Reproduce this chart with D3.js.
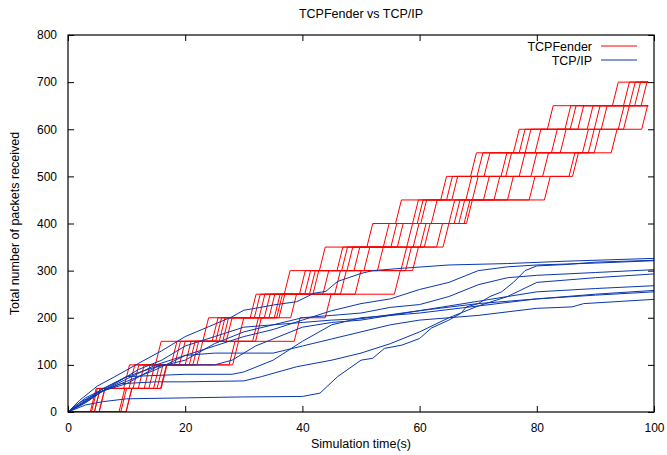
<!DOCTYPE html>
<html>
<head>
<meta charset="utf-8">
<script src="https://cdn.jsdelivr.net/npm/d3@7"></script>
<style>
  body { margin: 0; background: #fff; }
  text { font-family: "Liberation Sans", Arial, Helvetica, sans-serif; fill: #000; }
</style>
</head>
<body>
<svg id="chart" width="667" height="455"></svg>
<script>
// tick labels
const xTicks = [0, 20, 40, 60, 80, 100];
const yTicks = [0, 100, 200, 300, 400, 500, 600, 700, 800];

// TCPFender: one step of 50 packets per row, time (s) each run reaches it
const stepLevels = [50, 100, 150, 200, 250, 300, 350, 400, 450, 500, 550, 600, 650, 700];
const stepArrivals = [
  [4.8, 5.0, 5.5, 5.5, 6.3, 6.3, 9.7, 10.0, 10.9, 10.9],
  [10.5, 11.4, 12.1, 13.0, 14.0, 14.8, 15.6, 16.2, 16.8, 16.9],
  [15.9, 18.6, 19.2, 20.0, 21.0, 21.7, 22.3, 23.0, 28.5, 29.1],
  [24.0, 25.6, 26.2, 26.8, 27.4, 28.0, 30.0, 32.5, 33.0, 39.6],
  [32.1, 32.8, 33.6, 34.5, 35.3, 36.2, 36.6, 37.0, 39.0, 44.9],
  [37.9, 40.5, 41.4, 42.2, 42.8, 44.5, 46.5, 47.5, 50.0, 56.7],
  [43.9, 46.9, 47.7, 48.6, 49.8, 51.5, 53.8, 57.8, 58.6, 59.8],
  [52.0, 54.8, 56.1, 57.2, 58.8, 59.9, 61.1, 61.8, 63.9, 65.0],
  [56.9, 59.8, 60.6, 61.2, 63.0, 66.0, 66.9, 67.7, 68.6, 69.0],
  [64.6, 65.6, 66.5, 68.9, 70.0, 71.9, 73.7, 76.0, 79.7, 82.3],
  [69.7, 70.8, 72.0, 74.9, 75.7, 78.0, 80.0, 82.0, 86.5, 87.1],
  [77.0, 78.0, 79.0, 80.7, 83.5, 85.0, 88.8, 89.8, 90.8, 93.7],
  [82.8, 85.8, 86.7, 88.0, 89.6, 90.8, 92.0, 94.9, 95.8, 98.9],
  [93.9, 95.8, 96.8, 97.7, 98.8]
];
const fenderEnd = 99;

// TCP/IP runs: [time, packets]
const tcpRun1 = [[0,0],[2,25],[5,55],[8,75],[12,103],[16,130],[20,160],[24,181],[28,202],[30,216],[32,220],[35,227],[39,234],[42,252],[44,256],[46,277],[50,294],[52,300],[57,305],[65,312],[75,315],[85,320],[100,326]];
const tcpRun2 = [[0,0],[1,5],[3,15],[6,22],[10,28],[20,30],[30,32],[40,33],[43,40],[46,75],[50,110],[52,114],[54,135],[57,142],[60,156],[62,178],[65,195],[67,209],[68,223],[70,230],[72,245],[74,255],[76,275],[78,300],[80,310],[85,313],[90,318],[100,322]];
const tcpRun3 = [[0,0],[2,15],[5,40],[10,65],[15,90],[20,120],[25,140],[30,160],[35,175],[40,195],[45,215],[50,230],[55,240],[60,260],[65,275],[70,300],[75,308],[80,312],[90,316],[100,321]];
const tcpRun4 = [[0,0],[3,20],[6,45],[10,60],[15,95],[20,110],[25,145],[30,170],[35,185],[40,200],[45,205],[50,210],[55,222],[60,228],[65,245],[70,270],[75,285],[80,290],[90,296],[100,302]];
const tcpRun5 = [[0,0],[3,25],[6,50],[10,75],[16,100],[20,100],[25,100],[28,110],[32,140],[36,160],[40,180],[45,190],[50,195],[55,205],[60,215],[65,225],[70,235],[75,245],[80,275],[90,285],[100,293]];
const tcpRun6 = [[0,0],[2,20],[5,40],[9,60],[15,64],[20,64],[30,66],[33,75],[39,96],[45,110],[50,125],[55,145],[60,170],[65,200],[70,225],[75,245],[80,255],[90,262],[100,268]];
const tcpRun7 = [[0,0],[3,30],[7,55],[10,75],[20,80],[28,80],[30,85],[35,110],[40,150],[45,185],[50,200],[60,210],[70,225],[80,240],[90,250],[100,258]];
const tcpRun8 = [[0,0],[4,30],[8,60],[12,90],[16,110],[20,140],[25,160],[30,180],[35,185],[40,190],[45,195],[50,198],[60,215],[70,230],[80,240],[90,248],[100,255]];
const tcpRun9 = [[0,0],[3,20],[6,45],[10,70],[15,100],[20,120],[25,125],[35,125],[40,140],[45,155],[50,170],[55,185],[60,195],[65,200],[70,205],[80,220],[86,223],[88,230],[100,239]];
const tcpRuns = [tcpRun1, tcpRun2, tcpRun3, tcpRun4, tcpRun5, tcpRun6, tcpRun7, tcpRun8, tcpRun9];

const RED = "#ff0000";
const BLUE = "#0a37b0";

const svg = d3.select("#chart");
const MARGIN = { LEFT: 68, RIGHT: 13, TOP: 35, BOTTOM: 43 };
const width = 667, height = 455;

const x = d3.scaleLinear().domain([0, 100]).range([MARGIN.LEFT, width - MARGIN.RIGHT]);
const y = d3.scaleLinear().domain([0, 800]).range([height - MARGIN.BOTTOM, MARGIN.TOP]);

// build each TCPFender run as a staircase with 1 s risers
const nRuns = stepArrivals[0].length;
const fenderRuns = [];
for (let i = 0; i < nRuns; i++) {
  const pts = [[0, 0]];
  let level = 0;
  stepLevels.forEach((lv, k) => {
    const a = stepArrivals[k][i];
    if (a === undefined) return;
    pts.push([a - 1, level]);
    pts.push([a, lv]);
    level = lv;
  });
  pts.push([Math.max(fenderEnd, pts[pts.length - 1][0]), level]);
  fenderRuns.push(pts);
}

const line = d3.line().x((d) => x(d[0])).y((d) => y(d[1]));

svg.append("defs").append("clipPath").attr("id", "plotClip")
  .append("rect")
  .attr("x", x(0)).attr("y", y(800))
  .attr("width", x(100) - x(0)).attr("height", y(0) - y(800));

const plot = svg.append("g").attr("clip-path", "url(#plotClip)");

plot.append("g")
  .selectAll("path")
  .data(fenderRuns)
  .join("path")
  .attr("d", line)
  .attr("fill", "none")
  .attr("stroke", RED)
  .attr("stroke-width", 1);

plot.append("g")
  .selectAll("path")
  .data(tcpRuns)
  .join("path")
  .attr("d", line)
  .attr("fill", "none")
  .attr("stroke", BLUE)
  .attr("stroke-width", 1);

// axes, gnuplot style: inward ticks mirrored on all sides
const TICK = 6;
const axisFont = 12;

svg.append("g")
  .attr("transform", `translate(0,${y(0)})`)
  .call(d3.axisBottom(x).tickValues(xTicks).tickSize(-TICK).tickPadding(TICK + 5))
  .call((g) => g.select(".domain").remove());
svg.append("g")
  .attr("transform", `translate(0,${y(800)})`)
  .call(d3.axisTop(x).tickValues(xTicks).tickSize(-TICK).tickFormat(""))
  .call((g) => g.select(".domain").remove());
svg.append("g")
  .attr("transform", `translate(${x(0)},0)`)
  .call(d3.axisLeft(y).tickValues(yTicks).tickSize(-TICK).tickPadding(TICK + 5))
  .call((g) => g.select(".domain").remove());
svg.append("g")
  .attr("transform", `translate(${x(100)},0)`)
  .call(d3.axisRight(y).tickValues(yTicks).tickSize(-TICK).tickFormat(""))
  .call((g) => g.select(".domain").remove());

svg.selectAll(".tick line").attr("stroke", "#000").attr("stroke-width", 1);
svg.selectAll(".tick text")
  .style("font-family", '"Liberation Sans", Arial, sans-serif')
  .style("font-size", axisFont + "px")
  .attr("fill", "#000");

svg.append("rect")
  .attr("x", x(0)).attr("y", y(800))
  .attr("width", x(100) - x(0)).attr("height", y(0) - y(800))
  .attr("fill", "none").attr("stroke", "#000").attr("stroke-width", 1.2);

// titles
svg.append("text")
  .attr("x", (x(0) + x(100)) / 2).attr("y", 18)
  .attr("text-anchor", "middle").style("font-size", "12.5px")
  .text("TCPFender vs TCP/IP");
svg.append("text")
  .attr("x", (x(0) + x(100)) / 2).attr("y", 448)
  .attr("text-anchor", "middle").style("font-size", "12.5px")
  .text("Simulation time(s)");
svg.append("text")
  .attr("transform", `translate(19,${(y(0) + y(800)) / 2}) rotate(-90)`)
  .attr("text-anchor", "middle").style("font-size", "12.5px")
  .text("Total number of packets received");

// legend
const legend = [
  { name: "TCPFender", color: RED },
  { name: "TCP/IP", color: BLUE }
];
const lg = svg.append("g").selectAll("g").data(legend).join("g")
  .attr("transform", (d, i) => `translate(0,${46 + i * 14})`);
lg.append("text")
  .attr("x", 592).attr("y", 4.5)
  .attr("text-anchor", "end").style("font-size", "12.5px")
  .text((d) => d.name);
lg.append("line")
  .attr("x1", 601).attr("x2", 637)
  .attr("stroke", (d) => d.color).attr("stroke-width", 1);
</script>
</body>
</html>
